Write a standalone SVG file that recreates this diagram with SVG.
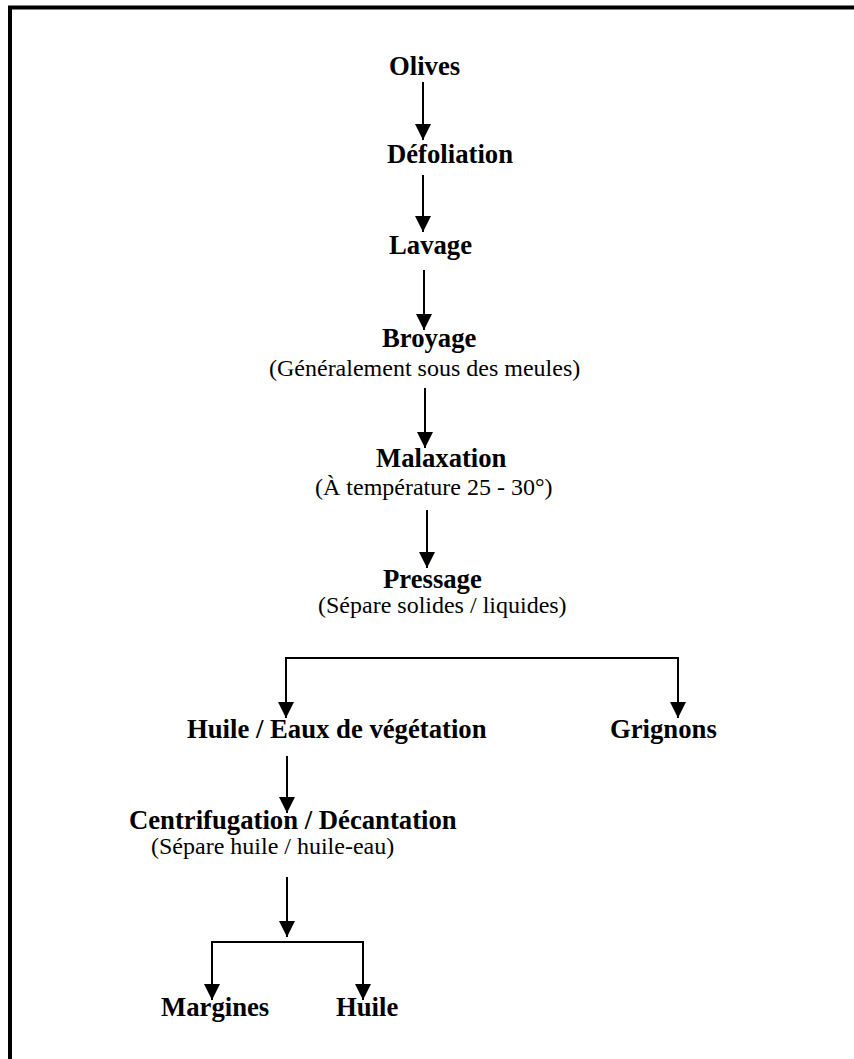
<svg xmlns="http://www.w3.org/2000/svg" width="854" height="1059" viewBox="0 0 854 1059">
<style>
.b{font-family:"Liberation Serif","Times New Roman",serif;font-weight:bold;font-size:26.7px;fill:#000}
.r{font-family:"Liberation Serif","Times New Roman",serif;font-size:24px;fill:#000}
.c{fill:none;stroke:#000;stroke-width:2}
</style>
<defs>
<marker id="ah" markerWidth="16" markerHeight="16" viewBox="0 0 16 16" refX="16" refY="8" orient="auto" markerUnits="userSpaceOnUse">
<path d="M0,0 L16,8 L0,16 Z" fill="#000"/>
</marker>
</defs>
<rect x="10" y="7.5" width="900" height="1100" fill="#fff" stroke="#000" stroke-width="4"/>
<g id="n-olives"><text class="b" x="389" y="75">Olives</text></g>
<g id="n-defoliation"><text class="b" x="387" y="163">Défoliation</text></g>
<g id="n-lavage"><text class="b" x="389" y="254">Lavage</text></g>
<g id="n-broyage"><text class="b" x="382" y="347">Broyage</text><text class="r" x="269" y="376">(Généralement sous des meules)</text></g>
<g id="n-malaxation"><text class="b" x="376" y="467">Malaxation</text><text class="r" x="315" y="495">(À température 25 - 30°)</text></g>
<g id="n-pressage"><text class="b" x="383" y="588">Pressage</text><text class="r" x="318" y="613">(Sépare solides / liquides)</text></g>
<g id="n-huile-eaux"><text class="b" x="187" y="738">Huile / Eaux de végétation</text></g>
<g id="n-grignons"><text class="b" x="610" y="738">Grignons</text></g>
<g id="n-centrifugation"><text class="b" x="129" y="829">Centrifugation / Décantation</text><text class="r" x="151" y="854">(Sépare huile / huile-eau)</text></g>
<g id="n-margines"><text class="b" x="161" y="1016">Margines</text></g>
<g id="n-huile"><text class="b" x="336" y="1016">Huile</text></g>
<g id="connectors">
<path class="c" d="M423,82 V140" marker-end="url(#ah)"/>
<path class="c" d="M423,175 V232" marker-end="url(#ah)"/>
<path class="c" d="M424,270 V330" marker-end="url(#ah)"/>
<path class="c" d="M425,388 V448" marker-end="url(#ah)"/>
<path class="c" d="M427,510 V568" marker-end="url(#ah)"/>
<path class="c" d="M678,658 H286"/>
<path class="c" d="M286,657 V718" marker-end="url(#ah)"/>
<path class="c" d="M678,657 V718" marker-end="url(#ah)"/>
<path class="c" d="M287,756 V813" marker-end="url(#ah)"/>
<path class="c" d="M287,877 V937" marker-end="url(#ah)"/>
<path class="c" d="M211,942 H363"/>
<path class="c" d="M212,941 V1000" marker-end="url(#ah)"/>
<path class="c" d="M363,941 V1000" marker-end="url(#ah)"/>
</g>
</svg>
